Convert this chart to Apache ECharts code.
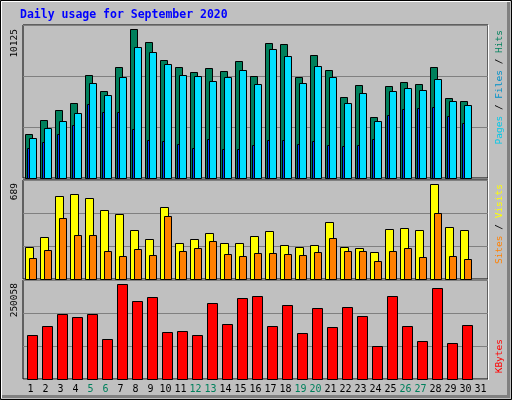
<!DOCTYPE html>
<html><head><meta charset="utf-8">
<script src="https://cdn.jsdelivr.net/npm/echarts@6/dist/echarts.min.js"></script>
<style>html,body{margin:0;padding:0;background:#C0C0C0}#c{width:512px;height:400px}</style>
</head><body><div id="c"></div>
<script>
const days = Array.from({length:31},(_,i)=>String(i+1));
const weekendDays = ['5','6','12','13','19','20','26','27'];
const hits = [2890,3840,4500,4960,6820,5760,7350,9860,9000,7810,7350,7020,7280,7080,7740,6750,8940,8870,6690,8140,7150,5360,6160,4040,6090,6350,6220,7350,5300,5100];
const files = [2630,3290,3750,4280,6270,5470,6670,8650,8320,7530,6800,6730,6400,6670,7130,6200,8520,8060,6270,7390,6670,4950,5610,3750,5740,5940,5810,6530,5080,4810];
const pages = [1970,2360,2890,3490,4880,4350,4350,3220,2500,2430,2230,1970,2560,1900,1900,2160,2500,2500,2230,2430,2160,2100,2160,2560,4150,4550,4610,4680,4080,3620];
const sites = [220,290,575,590,562,478,450,339,276,499,248,276,318,248,248,297,332,235,220,235,395,220,214,186,346,353,339,659,360,339];
const visits = [144,200,422,304,304,193,158,207,165,436,193,214,262,172,158,179,179,172,165,186,283,193,193,123,193,214,151,457,158,137];
const kbytes = [110400,133100,163400,155900,163400,100300,239200,196300,206400,118000,120500,110400,191200,138200,203900,208900,133100,186200,115400,178600,130600,181100,158400,82600,208900,133100,95200,229100,90200,135600];
const maxHits = 10125, maxSites = 689, maxKB = 250058;

function bar(offset, width, color){
  return function(params, api){
    const t = api.coord([api.value(0), api.value(1)]);
    const b = api.coord([api.value(0), 0]);
    return {type:'rect', shape:{x:Math.round(t[0]+offset)+0.5, y:Math.round(t[1])+0.5, width:width, height:Math.round(b[1]-t[1])},
      style:{fill:color, stroke:'#000', lineWidth:1}};
  };
}
function ser(data, xi, offset, width, color){
  return {type:'custom', xAxisIndex:xi, yAxisIndex:xi, renderItem:bar(offset,width,color),
    encode:{x:0,y:1}, data:data.map((v,i)=>[i,v]), silent:true};
}
const gridL = 23, gridW = 465;
const grids = [
  {left:gridL, top:25, width:gridW, height:153},
  {left:gridL, top:180, width:gridW, height:99},
  {left:gridL, top:280, width:gridW, height:99}
].map(g=>Object.assign(g,{show:true, borderColor:'#000', borderWidth:1, backgroundColor:'transparent'}));
function xa(i, labels){
  return {type:'category', gridIndex:i, data:days, boundaryGap:true, axisLine:{show:false}, axisTick:{show:false},
    axisLabel:{show:labels, margin:5, fontFamily:'DejaVu Sans Mono', fontSize:10, interval:0,
      formatter:v=> weekendDays.includes(v) ? '{w|'+v+'}' : v, color:'#000', rich:{w:{color:'#00805C', fontFamily:'DejaVu Sans Mono', fontSize:10}}}};
}
function ya(i, max){
  return {type:'value', gridIndex:i, min:0, max:max, interval:max/3, axisLabel:{show:false}, axisLine:{show:false}, axisTick:{show:false},
    splitLine:{show:true, lineStyle:{color:'#808080', width:1}}};
}
const mono = 'DejaVu Sans Mono';
const rtxt = (x,y,rich,text)=>({type:'text', x:x, y:y, rotation:Math.PI/2, style:{text:text, rich:rich, fontFamily:mono, fontSize:9.5, fill:'#000', align:'right', verticalAlign:'middle'}});
const chart = echarts.init(document.getElementById('c'));
chart.setOption({
  animation:false,
  grid:grids,
  xAxis:[xa(0,false), xa(1,false), xa(2,true)],
  yAxis:[ya(0,maxHits), ya(1,maxSites), ya(2,maxKB)],
  series:[
    ser(hits,0,-5.5,7,'#00805C'),
    ser(pages,0,-3.8,2,'#0040FF'),
    ser(files,0,-1.5,7,'#00E0FF'),
    ser(sites,1,-5.5,8,'#FFFF00'),
    ser(visits,1,-1.3,7,'#FF8000'),
    ser(kbytes,2,-4,10,'#FF0000')
  ],
  graphic:[
    {type:'rect', shape:{x:0.5,y:0.5,width:511,height:399}, style:{fill:null, stroke:'#000', lineWidth:1}, z:-1},
    {type:'polyline', shape:{points:[[1.5,398],[1.5,1.5],[510,1.5]]}, style:{stroke:'#fff', fill:null, lineWidth:1}},
    {type:'polyline', shape:{points:[[2,396.5],[508.5,396.5],[508.5,2]]}, style:{stroke:'#808080', fill:null, lineWidth:3}},
    {type:'line', shape:{x1:gridL+gridW+0.5,y1:25,x2:gridL+gridW+0.5,y2:380}, style:{stroke:'#fff', lineWidth:1}},
    {type:'text', x:20, y:9, style:{text:'Daily usage for September 2020', fontFamily:mono, fontWeight:'bold', fontSize:11.5, fill:'#0000FF'}},
    rtxt(15,29,null,String(maxHits)),
    rtxt(15,183,null,String(maxSites)),
    rtxt(15,283,null,String(maxKB)),
    {type:'text', x:500, y:30, rotation:Math.PI/2, style:{text:'{p|Pages} / {f|Files} / {h|Hits}', fontFamily:mono, fontSize:9.5, fill:'#000', align:'right', verticalAlign:'middle',
      rich:{p:{fill:'#00C8E8',fontFamily:mono,fontSize:9.5},f:{fill:'#0090C8',fontFamily:mono,fontSize:9.5},h:{fill:'#00805C',fontFamily:mono,fontSize:9.5}}}},
    {type:'text', x:500, y:184, rotation:Math.PI/2, style:{text:'{s|Sites} / {v|Visits}', fontFamily:mono, fontSize:9.5, fill:'#000', align:'right', verticalAlign:'middle',
      rich:{s:{fill:'#FF8000',fontFamily:mono,fontSize:9.5},v:{fill:'#FFFF00',fontFamily:mono,fontSize:9.5}}}},
    {type:'text', x:500, y:339, rotation:Math.PI/2, style:{text:'KBytes', fontFamily:mono, fontSize:9.5, fill:'#FF0000', align:'right', verticalAlign:'middle'}}
  ]
});
</script></body></html>
